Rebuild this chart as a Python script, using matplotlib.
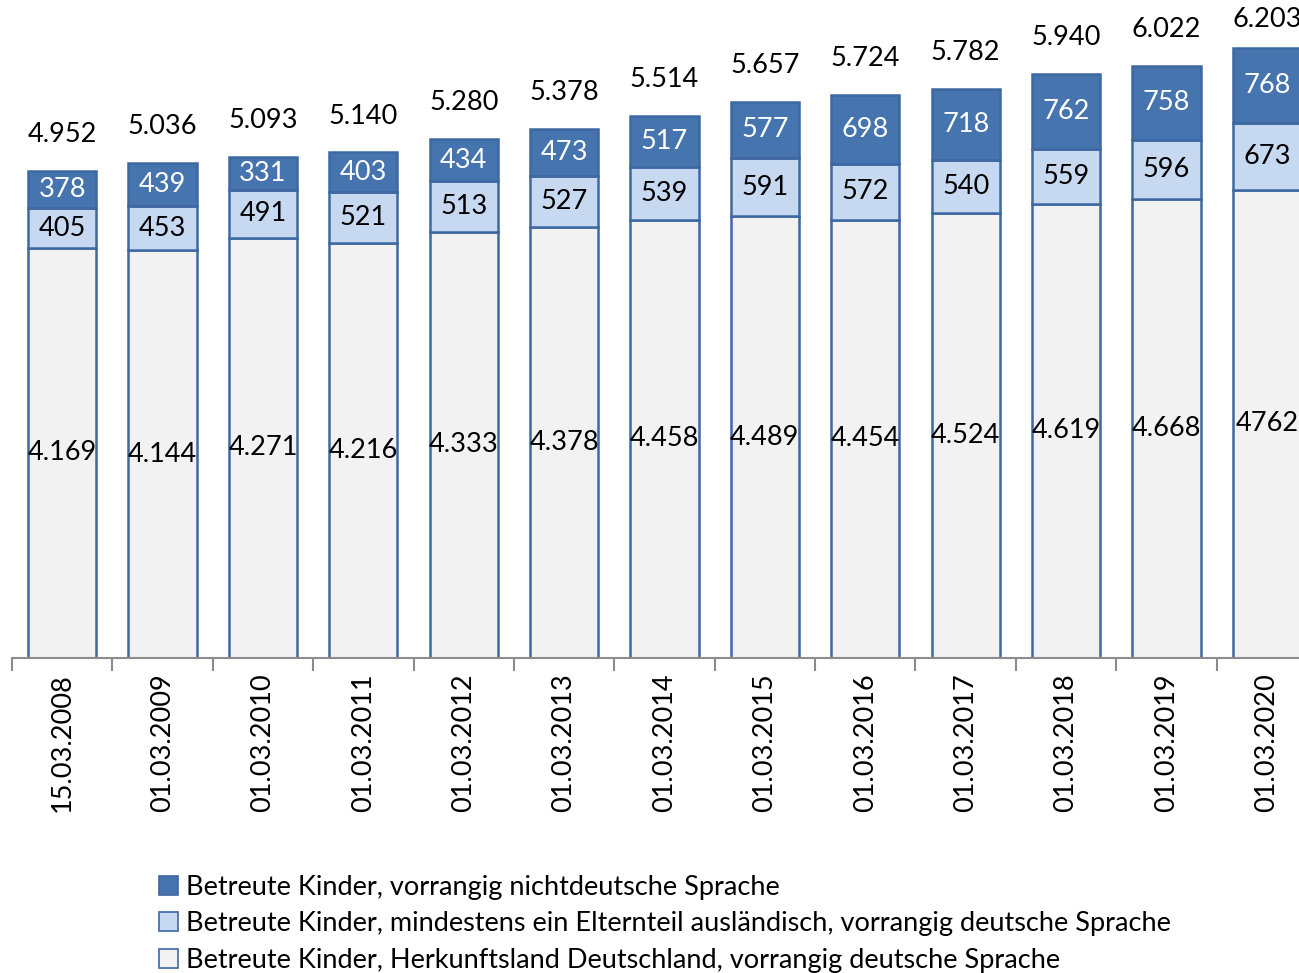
import matplotlib
matplotlib.use("Agg")
import matplotlib.pyplot as plt
from matplotlib.patches import Patch

categories = ["15.03.2008", "01.03.2009", "01.03.2010", "01.03.2011", "01.03.2012",
              "01.03.2013", "01.03.2014", "01.03.2015", "01.03.2016", "01.03.2017",
              "01.03.2018", "01.03.2019", "01.03.2020"]
herkunft_de = [4169, 4144, 4271, 4216, 4333, 4378, 4458, 4489, 4454, 4524, 4619, 4668, 4762]
eltern_ausl = [405, 453, 491, 521, 513, 527, 539, 591, 572, 540, 559, 596, 673]
nichtdeutsch = [378, 439, 331, 403, 434, 473, 517, 577, 698, 718, 762, 758, 768]
herkunft_labels = ["4.169", "4.144", "4.271", "4.216", "4.333", "4.378", "4.458", "4.489",
                   "4.454", "4.524", "4.619", "4.668", "4762"]
total_labels = ["4.952", "5.036", "5.093", "5.140", "5.280", "5.378", "5.514", "5.657",
                "5.724", "5.782", "5.940", "6.022", "6.203"]
legend_labels = ["Betreute Kinder, vorrangig nichtdeutsche Sprache",
                 "Betreute Kinder, mindestens ein Elternteil ausländisch, vorrangig deutsche Sprache",
                 "Betreute Kinder, Herkunftsland Deutschland, vorrangig deutsche Sprache"]

plt.rcParams['font.family'] = ['Lato', 'DejaVu Sans']

W, H = 1299, 973
fig = plt.figure(figsize=(W / 100, H / 100), dpi=100)
left_px, right_px, bottom_px = 12, 1317, 658
ax = fig.add_axes([left_px / W, (H - bottom_px) / H, (right_px - left_px) / W, bottom_px / H])

c_dark, c_light, c_grey = "#4674AE", "#C6D9F1", "#F2F2F2"
edge = "#3D68A2"
x = list(range(len(categories)))
bw = 0.68
ymax = 6690

ax.bar(x, herkunft_de, bw, color=c_grey, edgecolor=edge, linewidth=1.8)
ax.bar(x, eltern_ausl, bw, bottom=herkunft_de, color=c_light, edgecolor=edge, linewidth=1.8)
b3 = [a + b for a, b in zip(herkunft_de, eltern_ausl)]
ax.bar(x, nichtdeutsch, bw, bottom=b3, color=c_dark, edgecolor=edge, linewidth=1.8)

fs = 19.5
for i in x:
    ax.text(i, herkunft_de[i] / 2, herkunft_labels[i], ha="center", va="center", fontsize=fs, color="black")
    ax.text(i, b3[i] - eltern_ausl[i] / 2, str(eltern_ausl[i]), ha="center", va="center", fontsize=fs, color="black")
    ax.text(i, b3[i] + nichtdeutsch[i] / 2, str(nichtdeutsch[i]), ha="center", va="center", fontsize=fs, color="white")
    tot = b3[i] + nichtdeutsch[i]
    ax.text(i, min(tot + 370, ymax - 200), total_labels[i], ha="center", va="center", fontsize=fs, color="black")

ax.set_xlim(-0.5, len(categories) - 0.5)
ax.set_ylim(0, ymax)
for s in ["top", "right", "left"]:
    ax.spines[s].set_visible(False)
ax.spines["bottom"].set_color("#8C8C8C")
ax.spines["bottom"].set_linewidth(1.5)
ax.set_yticks([])
ax.set_xticks([i - 0.5 for i in range(len(categories) + 1)])
ax.set_xticklabels([])
ax.tick_params(axis="x", length=9, width=1.5, color="#8C8C8C", direction="out")
for i, lab in enumerate(categories):
    ax.text(i, -160, lab, rotation=90, ha="center", va="top", fontsize=fs, color="black")

handles = [Patch(facecolor=c_dark, edgecolor=edge, linewidth=1.2),
           Patch(facecolor=c_light, edgecolor=edge, linewidth=1.2),
           Patch(facecolor=c_grey, edgecolor=edge, linewidth=1.2)]
fig.legend(handles, legend_labels, loc="upper left", bbox_to_anchor=(159 / W, 1 - 875 / H),
           frameon=False, fontsize=fs, handlelength=0.7, handleheight=0.7, handletextpad=0.3,
           labelspacing=0.42, borderaxespad=0, borderpad=0)

fig.savefig("out.png", dpi=100)
